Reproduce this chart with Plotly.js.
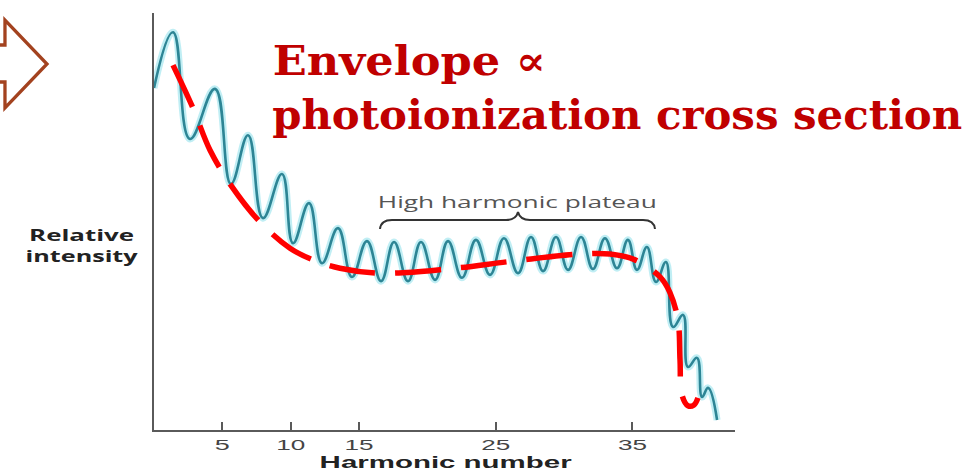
<!DOCTYPE html>
<html>
<head>
<meta charset="utf-8">
<script src="https://cdn.plot.ly/plotly-3.0.1.min.js"></script>
<style>
  html, body { margin: 0; padding: 0; background: #ffffff; }
  #chart { width: 968px; height: 472px; }
</style>
</head>
<body>
<div id="chart"></div>
<script>
// Harmonic spectrum: peaks and troughs
const harmonic = [0.0, 1.39, 2.63, 4.46, 5.63, 6.88, 7.97, 9.36, 10.17, 11.34, 12.29, 13.46, 14.48,
  15.58, 16.61, 17.56, 18.58, 19.53, 20.56, 21.51, 22.53, 23.55, 24.58, 25.60, 26.63, 27.58, 28.46,
  29.41, 30.29, 31.24, 32.11, 32.99, 33.87, 34.67, 35.33, 36.06, 36.72, 37.45, 37.97, 38.70, 39.06,
  39.72, 40.09, 40.53, 41.19];
const intensity = [82.0, 95.4, 69.8, 81.8, 59.0, 70.7, 50.8, 61.4, 44.8, 54.4, 40.0, 48.4, 36.7,
  45.3, 35.7, 45.1, 35.7, 45.1, 36.0, 45.3, 36.5, 45.6, 37.2, 46.0, 37.6, 46.3, 38.1,
  46.3, 38.4, 46.3, 38.6, 46.0, 38.8, 45.6, 38.4, 43.9, 35.5, 40.3, 24.7, 27.6, 15.1,
  17.3, 7.9, 10.1, 2.4];

// Envelope (red dashed curve)
const envHarmonic = [1.39, 2.85, 4.10, 5.71, 7.75, 9.95, 11.63, 13.61, 16.53, 21.43, 26.26, 31.16,
  33.36, 35.19, 37.02, 37.75, 38.33, 38.48, 38.62, 39.06, 39.50, 39.79];
const envIntensity = [87.5, 77.2, 67.1, 58.3, 49.9, 43.6, 40.8, 38.8, 37.6, 38.6, 40.5, 42.2,
  42.2, 40.8, 36.7, 32.9, 26.4, 16.8, 8.4, 5.8, 6.0, 7.7];

// Axis ticks
const tickValues = [5, 10, 15, 25, 35];
const tickLabels = ['5', '10', '15', '25', '35'];

// Texts
const xTitle = 'Harmonic number';
const yTitleLines = ['Relative', 'intensity'];
const plateauLabel = 'High harmonic plateau';
const headline = ['Envelope ∝', 'photoionization cross section'];

// ---- layout helpers (pixel -> paper) ----
const L = 154, R = 233, T = 13, B = 42, W = 968, H = 472;
const PW = W - L - R, PH = H - T - B;
const X = px => (px - L) / PW;
const Y = py => (H - B - py) / PH;
const P = (px, py) => X(px).toFixed(4) + ',' + Y(py).toFixed(4);

const data = [
  { x: harmonic, y: intensity, type: 'scatter', mode: 'lines', hoverinfo: 'skip',
    line: { color: 'rgba(150,226,236,0.6)', width: 7, shape: 'spline', smoothing: 1.25 } },
  { x: harmonic, y: intensity, type: 'scatter', mode: 'lines',
    line: { color: '#2d8595', width: 2.6, shape: 'spline', smoothing: 1.25 } },
  { x: envHarmonic, y: envIntensity, type: 'scatter', mode: 'lines',
    line: { color: '#ff0000', width: 5.5, dash: '46px,20px', shape: 'spline', smoothing: 1 } }
];

const bracePath = 'M' + P(380, 229) + ' Q' + P(381, 220) + ' ' + P(392, 220) +
  ' L' + P(506, 220) + ' Q' + P(516, 220) + ' ' + P(518, 212) +
  ' Q' + P(520, 220) + ' ' + P(530, 220) + ' L' + P(643, 220) +
  ' Q' + P(654, 220) + ' ' + P(655, 229);
const arrowPath = 'M' + P(-10, 45) + ' L' + P(5, 45) + ' L' + P(5, 20) + ' L' + P(47, 64) +
  ' L' + P(5, 108) + ' L' + P(5, 82) + ' L' + P(-10, 82);

const layout = {
  width: W, height: H,
  margin: { l: L, r: R, t: T, b: B },
  paper_bgcolor: '#ffffff', plot_bgcolor: '#ffffff',
  showlegend: false,
  xaxis: {
    range: [0, PW / 13.67], showgrid: false, zeroline: false,
    showline: true, linecolor: '#5a5a5a', linewidth: 2,
    ticks: 'inside', ticklen: 8, tickwidth: 2, tickcolor: '#5a5a5a',
    tickmode: 'array', tickvals: tickValues, ticktext: tickLabels,
    tickfont: { family: 'Liberation Sans, Arial, sans-serif', size: 15, color: '#444' }
  },
  yaxis: {
    range: [0, 100], showgrid: false, zeroline: false,
    showline: true, linecolor: '#5a5a5a', linewidth: 2,
    showticklabels: false, ticks: ''
  },
  shapes: [
    { type: 'path', xref: 'paper', yref: 'paper', path: bracePath,
      line: { color: '#333', width: 2 } },
    { type: 'path', xref: 'paper', yref: 'paper', path: arrowPath,
      line: { color: '#a3421f', width: 3.3 } }
  ],
  annotations: [
    { text: xTitle, xref: 'paper', yref: 'paper', x: X(446), y: Y(472),
      xanchor: 'center', yanchor: 'bottom', borderpad: 0, showarrow: false,
      font: { family: 'Liberation Sans, Arial, sans-serif', size: 16.5, weight: 'bold', color: '#222' } },
    { text: yTitleLines.join('<br>'), xref: 'paper', yref: 'paper', x: X(82), y: Y(245),
      xanchor: 'center', yanchor: 'middle', align: 'center', showarrow: false,
      font: { family: 'Open Sans, sans-serif', size: 16, weight: 'bold', color: '#222' } },
    { text: plateauLabel, xref: 'paper', yref: 'paper', x: X(517.5), y: Y(201.5),
      xanchor: 'center', yanchor: 'middle', showarrow: false,
      font: { family: 'Open Sans, sans-serif', size: 17, color: '#555' } },
    { text: headline[0], xref: 'paper', yref: 'paper', x: X(408.5), y: Y(61),
      xanchor: 'center', yanchor: 'middle', showarrow: false,
      font: { family: 'DejaVu Serif, serif', size: 41, weight: 'bold', color: '#c00000' } },
    { text: headline[1], xref: 'paper', yref: 'paper', x: X(617), y: Y(115),
      xanchor: 'center', yanchor: 'middle', showarrow: false,
      font: { family: 'DejaVu Serif, serif', size: 41, weight: 'bold', color: '#c00000' } }
  ]
};

const textWidths = {
  'Relative': 105, 'intensity': 112, 'High harmonic plateau': 279,
  'Envelope ∝': 273, 'photoionization cross section': 690, 'Harmonic number': 252
};

Plotly.newPlot('chart', data, layout, { staticPlot: true, responsive: false }).then(gd => {
  const fit = (el, w) => {
    el.setAttribute('textLength', w);
    el.setAttribute('lengthAdjust', 'spacingAndGlyphs');
  };
  gd.querySelectorAll('.xtick text').forEach(t => fit(t, t.textContent.length === 1 ? 15 : 29));
  gd.querySelectorAll('.annotation-text').forEach(t => {
    const lines = t.querySelectorAll('tspan.line');
    if (lines.length) {
      lines.forEach(s => { const w = textWidths[s.textContent]; if (w) fit(s, w); });
    } else {
      const w = textWidths[t.textContent];
      if (w) fit(t, w);
    }
  });
});
</script>
</body>
</html>
